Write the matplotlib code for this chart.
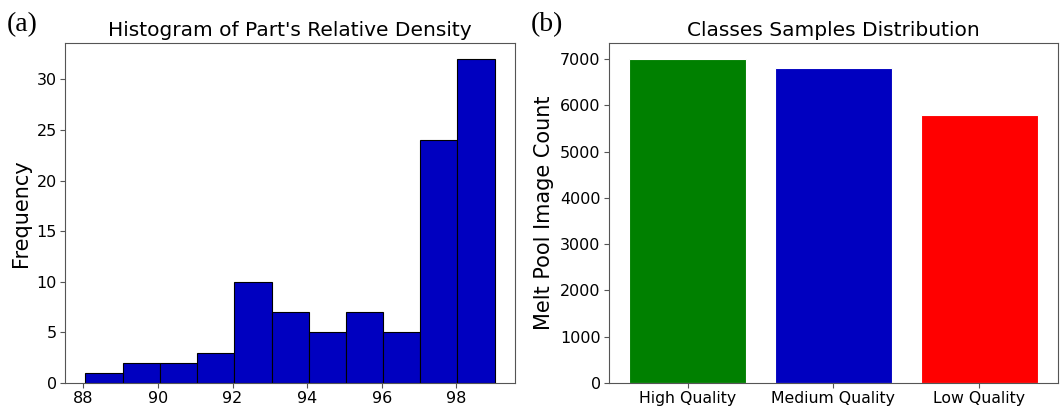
import matplotlib
matplotlib.use("Agg")
import matplotlib.pyplot as plt
import numpy as np

# histogram (a): bin edges and counts
bin_edges = [88.06, 89.06, 90.06, 91.05, 92.05, 93.05, 94.04, 95.03, 96.03, 97.02, 98.02, 99.02]
counts = [1, 2, 2, 3, 10, 7, 5, 7, 5, 24, 32]

# bar chart (b)
classes = ["High Quality", "Medium Quality", "Low Quality"]
image_counts = [7000, 6800, 5800]
class_colors = ["#008000", "#0000C0", "#FF0000"]

fig = plt.figure(figsize=(10.61, 4.07), dpi=100)
ax1 = fig.add_axes([65 / 1061, 24 / 407, 450 / 1061, 340 / 407])
ax2 = fig.add_axes([609 / 1061, 24 / 407, 449 / 1061, 340 / 407])

centers = [(bin_edges[i] + bin_edges[i + 1]) / 2 for i in range(len(counts))]
ax1.hist(centers, bins=bin_edges, weights=counts, color="#0000C0", edgecolor="black", linewidth=0.8)
ax1.set_xticks([88, 90, 92, 94, 96, 98])
ax1.set_title("Histogram of Part's Relative Density", fontsize=14.5, pad=5)
ax1.set_ylabel("Frequency", fontsize=15)
ax1.tick_params(labelsize=11.5, pad=2.5)

ax2.bar(classes, image_counts, color=class_colors, edgecolor="white", linewidth=0.8, width=0.8)
ax2.set_title("Classes Samples Distribution", fontsize=14.5, pad=5)
ax2.set_ylabel("Melt Pool Image Count", fontsize=15)
ax2.tick_params(axis="y", labelsize=11.5, pad=2.5)
ax2.tick_params(axis="x", labelsize=11.3, pad=2.5)

for ax in (ax1, ax2):
    for s in ax.spines.values():
        s.set_edgecolor("#555555")
    ax.tick_params(color="#555555")

fig.text(7 / 1061, 1 - 25 / 407, "(a)", fontsize=20, family="Liberation Serif", va="center")
fig.text(531 / 1061, 1 - 25 / 407, "(b)", fontsize=20, family="Liberation Serif", va="center")

fig.savefig("out.png", dpi=100)
